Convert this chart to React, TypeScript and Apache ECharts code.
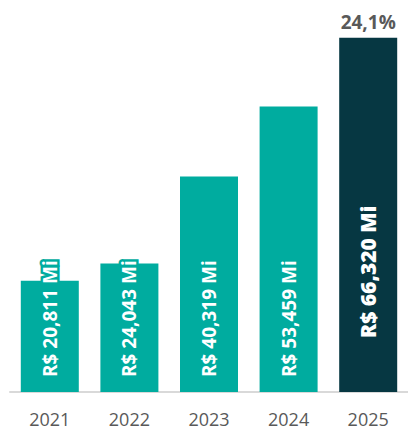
import React, { useEffect, useRef } from "react";
import * as echarts from "echarts";

const years = ["2021", "2022", "2023", "2024", "2025"];
const revenue = [20811, 24043, 40319, 53459, 66320];
const valueLabels = ["R$ 20,811 Mi", "R$ 24,043 Mi", "R$ 40,319 Mi", "R$ 53,459 Mi", "R$ 66,320 Mi"];
const growthLabels = ["", "", "", "", "24,1%"];

const TEAL = "#00AC9F";
const DARK = "#063742";
const FONT = "'Open Sans', 'Noto Sans', sans-serif";

export default function App() {
  const ref = useRef<HTMLDivElement>(null);
  useEffect(() => {
    if (!ref.current) return;
    const chart = echarts.init(ref.current, undefined, { renderer: "svg" });
    const last = revenue.length - 1;
    chart.setOption({
      animation: false,
      grid: { left: 10, top: 18, width: 403, bottom: 39, containLabel: false },
      xAxis: {
        type: "category",
        data: years,
        axisLine: { show: true, lineStyle: { color: "#D9D9D9", width: 2 } },
        axisTick: { show: false },
        axisLabel: { color: "#595959", fontSize: 18, fontFamily: FONT, margin: 18 },
      },
      yAxis: {
        type: "value",
        min: 0,
        max: 70000,
        show: false,
        splitLine: { show: false },
      },
      series: [
        {
          type: "bar",
          barWidth: 58,
          data: revenue.map((v, i) => ({
            value: v,
            itemStyle: { color: i === last ? DARK : TEAL },
            label:
              i === last
                ? { fontSize: 21, fontWeight: 800, distance: 54, textBorderColor: DARK }
                : undefined,
          })),
          label: {
            show: true,
            position: "insideBottom",
            rotate: 90,
            align: "left",
            verticalAlign: "middle",
            distance: 15,
            color: "#FFFFFF",
            fontWeight: "bold",
            fontSize: 19,
            fontFamily: FONT,
            textBorderColor: TEAL,
            textBorderWidth: 5,
            formatter: (p: any) => valueLabels[p.dataIndex],
          },
        },
        {
          type: "bar",
          barWidth: 58,
          barGap: "-100%",
          silent: true,
          itemStyle: { color: "rgba(0,0,0,0)" },
          data: revenue,
          label: {
            show: true,
            position: "top",
            distance: 6,
            color: "#595959",
            fontWeight: "bold",
            fontSize: 19,
            fontFamily: FONT,
            formatter: (p: any) => growthLabels[p.dataIndex],
          },
          z: 1,
        },
      ],
    });
    return () => chart.dispose();
  }, []);
  return (
    <div
      ref={ref}
      style={{ position: "absolute", left: 0, top: 0, width: 408, height: 431 }}
    />
  );
}
